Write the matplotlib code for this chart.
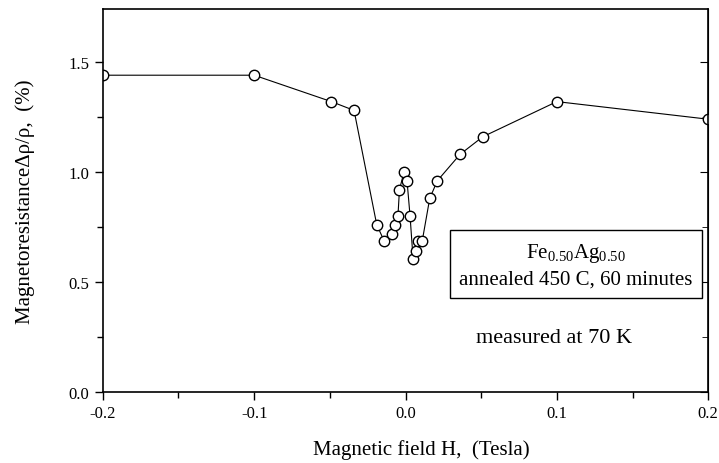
import matplotlib
matplotlib.use("Agg")
import matplotlib.pyplot as plt
from matplotlib.ticker import MultipleLocator

plt.rcParams['font.family'] = ['Liberation Serif', 'DejaVu Serif']
plt.rcParams['mathtext.fontset'] = 'custom'
plt.rcParams['mathtext.rm'] = 'Liberation Serif'

# field (Tesla) and magnetoresistance (%)
field = [-0.2, -0.1, -0.049, -0.034, -0.019, -0.014, -0.009, -0.007, -0.005,
         -0.004, -0.001, 0.001, 0.003, 0.005, 0.007, 0.008, 0.011, 0.016,
         0.021, 0.036, 0.051, 0.1, 0.2]
mr = [1.44, 1.44, 1.32, 1.28, 0.76, 0.685, 0.72, 0.76, 0.80,
      0.92, 1.0, 0.96, 0.80, 0.605, 0.64, 0.685, 0.685, 0.88,
      0.96, 1.08, 1.16, 1.32, 1.24]

fig = plt.figure(figsize=(7.19, 4.64), dpi=100)
ax = fig.add_axes([0.143, 0.153, 0.842, 0.825])

ax.plot(field, mr, color='black', lw=0.8, marker='o', ms=7.5,
        mfc='white', mec='black', mew=1.0)

ax.set_xlim(-0.2, 0.2)
ax.set_ylim(0.0, 1.74)
ax.xaxis.set_minor_locator(MultipleLocator(0.05))
ax.yaxis.set_minor_locator(MultipleLocator(0.25))
ax.tick_params(which='both', direction='out', labelsize=12, width=1.0)
ax.tick_params(which='major', length=6)
ax.tick_params(which='minor', length=4)
ax.set_xticks([-0.2, -0.1, 0.0, 0.1, 0.2])
ax.set_xticklabels(['-0.2', '-0.1', '0.0', '0.1', '0.2'])
ax.set_yticks([0.0, 0.5, 1.0, 1.5])
ax.set_yticklabels(['0.0', '0.5', '1.0', '1.5'])

sec = ax.secondary_yaxis('right')
sec.yaxis.set_major_locator(MultipleLocator(0.5))
sec.yaxis.set_minor_locator(MultipleLocator(0.25))
sec.tick_params(which='both', direction='in', labelright=False)
sec.tick_params(which='major', length=6)
sec.tick_params(which='minor', length=4)

for s in ax.spines.values():
    s.set_linewidth(1.2)

ax.set_xlabel('Magnetic field H,  (Tesla)', fontsize=15)
ax.xaxis.set_label_coords(0.526, -0.122)
ax.set_ylabel('Magnetoresistance\u0394\u03c1/\u03c1,  (%)', fontsize=15)
ax.yaxis.set_label_coords(-0.112, 0.5)

ax.text(0.1124, 0.577, r'Fe$_{0.50}$Ag$_{0.50}$' + '\nannealed 450 C, 60 minutes',
        ha='center', va='center', fontsize=15, linespacing=1.4,
        bbox=dict(boxstyle='square,pad=0.45', fc='white', ec='black', lw=1.0))
ax.text(0.098, 0.25, 'measured at 70 K', ha='center', va='center', fontsize=16)

fig.savefig('out.png', dpi=100)
